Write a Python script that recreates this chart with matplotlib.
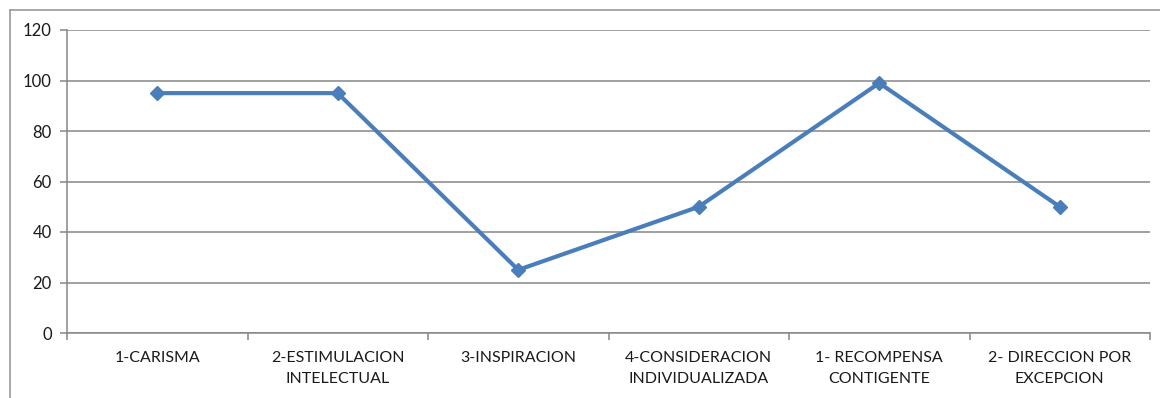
import matplotlib.pyplot as plt
from matplotlib.lines import Line2D
import numpy as np

categorias = ['1-CARISMA', '2-ESTIMULACION\nINTELECTUAL', '3-INSPIRACION',
              '4-CONSIDERACION\nINDIVIDUALIZADA', '1- RECOMPENSA\nCONTIGENTE',
              '2- DIRECCION POR\nEXCEPCION']
valores = [95, 95, 25, 50, 99, 50]
yticks = [0, 20, 40, 60, 80, 100, 120]

plt.rcParams['font.family'] = ['Lato', 'DejaVu Sans']

W, H = 1160, 398
fig = plt.figure(figsize=(W / 100, H / 100), dpi=100)
ax = fig.add_axes([67 / W, 1 - 333 / H, (1150 - 67) / W, (333 - 30) / H])

gris = '#868686'
x = np.arange(len(categorias))
ax.plot(x, valores, color='#4A7EBB', lw=3.0, marker='D', ms=7.5, zorder=3)

ax.set_xlim(-0.5, len(categorias) - 0.5)
ax.set_ylim(0, 120)
ax.set_yticks(yticks)
ax.grid(axis='y', color=gris, lw=1.1)
ax.set_axisbelow(True)

# ticks del eje x en los limites de cada categoria
ax.set_xticks(np.arange(len(categorias) + 1) - 0.5)
ax.set_xticklabels([])
ax.set_xticks(x, minor=True)
ax.set_xticklabels(categorias, minor=True, fontsize=11.5, color='#1a1a1a', linespacing=1.6)
ax.tick_params(axis='x', which='minor', length=0, pad=13)
ax.tick_params(axis='x', which='major', length=5, color=gris, width=1.1)
ax.tick_params(axis='y', length=5, color=gris, width=1.1, labelsize=12, labelcolor='#1a1a1a', pad=6)

for s in ['top', 'right']:
    ax.spines[s].set_visible(False)
for s in ['left', 'bottom']:
    ax.spines[s].set_color(gris)
    ax.spines[s].set_linewidth(1.1)

# borde exterior del grafico
fig.add_artist(Line2D([10 / W, 1], [1 - 10 / H, 1 - 10 / H], color='#9a9a9a', lw=1.2))
fig.add_artist(Line2D([10 / W, 10 / W], [0, 1 - 10 / H], color='#9a9a9a', lw=1.2))

fig.savefig('out.png', dpi=100)
